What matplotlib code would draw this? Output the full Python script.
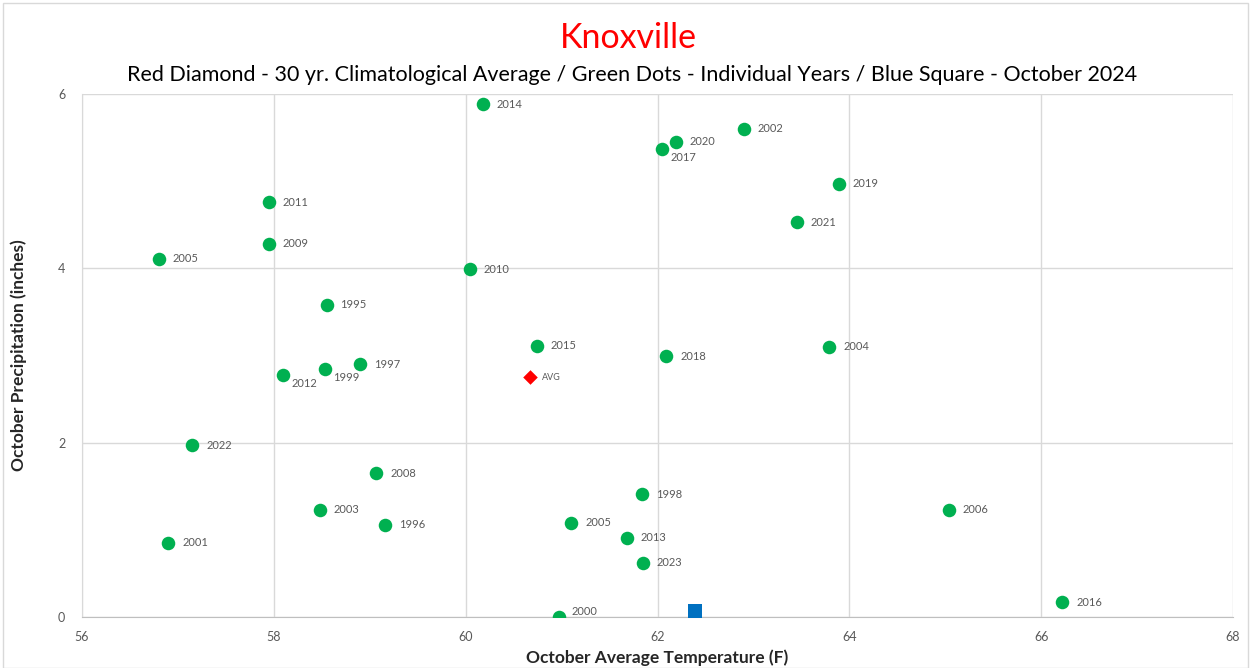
import matplotlib
matplotlib.use("Agg")
import matplotlib.pyplot as plt
from matplotlib.patches import Rectangle

plt.rcParams['font.family'] = ['Lato', 'DejaVu Sans']

years = ["2014", "2002", "2020", "2017", "2019", "2021", "2011", "2009", "2005",
         "2010", "1995", "2015", "2018", "2004", "1997", "1999", "2012", "2022",
         "2008", "2003", "1996", "2001", "1998", "2005", "2013", "2023", "2000",
         "2006", "2016"]
temps = [60.18, 62.90, 62.19, 62.05, 63.89, 63.45, 57.95, 57.95, 56.80,
         60.04, 58.55, 60.74, 62.09, 63.79, 58.90, 58.53, 58.10, 57.15,
         59.07, 58.48, 59.16, 56.90, 61.84, 61.10, 61.68, 61.85, 60.97,
         65.04, 66.22]
precip = [5.88, 5.60, 5.45, 5.37, 4.97, 4.53, 4.76, 4.28, 4.11,
          3.99, 3.58, 3.11, 2.99, 3.10, 2.90, 2.84, 2.78, 1.97,
          1.65, 1.23, 1.06, 0.85, 1.41, 1.08, 0.91, 0.62, 0.00,
          1.23, 0.17]
# label placement: 'r' right, 'br' below-right, 'ar' above-right
label_pos = {3: 'br', 15: 'br', 16: 'br', 26: 'ar'}

avg_temp, avg_precip = 60.67, 2.75
cur_temp, cur_precip = 62.39, 0.07

x_ticks = [56, 58, 60, 62, 64, 66, 68]
y_ticks = [0, 2, 4, 6]

fig = plt.figure(figsize=(12.51, 6.68), dpi=100)
ax = fig.add_axes([82/1251, 1-617/668, (1233-82)/1251, (617-94)/668])

grid_c = '#d9d9d9'
ax.set_xlim(56, 68)
ax.set_ylim(0, 6)
ax.set_xticks(x_ticks)
ax.set_yticks(y_ticks)
ax.grid(True, color=grid_c, linewidth=1)
ax.set_axisbelow(True)
for s in ['top', 'right']:
    ax.spines[s].set_visible(False)
ax.spines['left'].set_color(grid_c)
ax.spines['bottom'].set_color('#bfbfbf')
ax.tick_params(length=0, colors='#595959', labelsize=9, pad=12)
ax.tick_params(axis='x', pad=10)

ax.scatter(temps, precip, s=95, color='#00B050', zorder=3, linewidths=0)
ax.scatter([avg_temp], [avg_precip], s=55, marker='D', color='#FF0000', zorder=3, linewidths=0)
ax.scatter([cur_temp], [cur_precip], s=110, marker='s', color='#0070C0', zorder=3, linewidths=0)

for i, (yr, t, p) in enumerate(zip(years, temps, precip)):
    pos = label_pos.get(i, 'r')
    if pos == 'r':
        off = (10, 0)
    elif pos == 'br':
        off = (6, -6)
    else:
        off = (9, 4)
    ax.annotate(yr, (t, p), xytext=off, textcoords='offset points',
                ha='left', va='center', fontsize=8, color='#595959')
ax.annotate("AVG", (avg_temp, avg_precip), xytext=(9, 0), textcoords='offset points',
            ha='left', va='center', fontsize=6.5, color='#595959')

ax.set_xlabel("October Average Temperature (F)", fontsize=12.5, fontweight='bold', color='#262626', labelpad=5)
ax.set_ylabel("October Precipitation (inches)", fontsize=12.5, fontweight='bold', color='#262626', labelpad=22)

fig.text(628/1251, 1-38/668, "Knoxville", color='#FF0000', fontsize=24.5, ha='center', va='center')
fig.text(632/1251, 1-75/668, "Red Diamond - 30 yr. Climatological Average / Green Dots - Individual Years / Blue Square - October 2024",
         color='black', fontsize=15.5, ha='center', va='center')

fig.patches.append(Rectangle((3/1251, 0), 1245/1251, 1-3/668, transform=fig.transFigure,
                             fill=False, edgecolor='#d9d9d9', linewidth=1))

fig.savefig("out.png", dpi=100)
